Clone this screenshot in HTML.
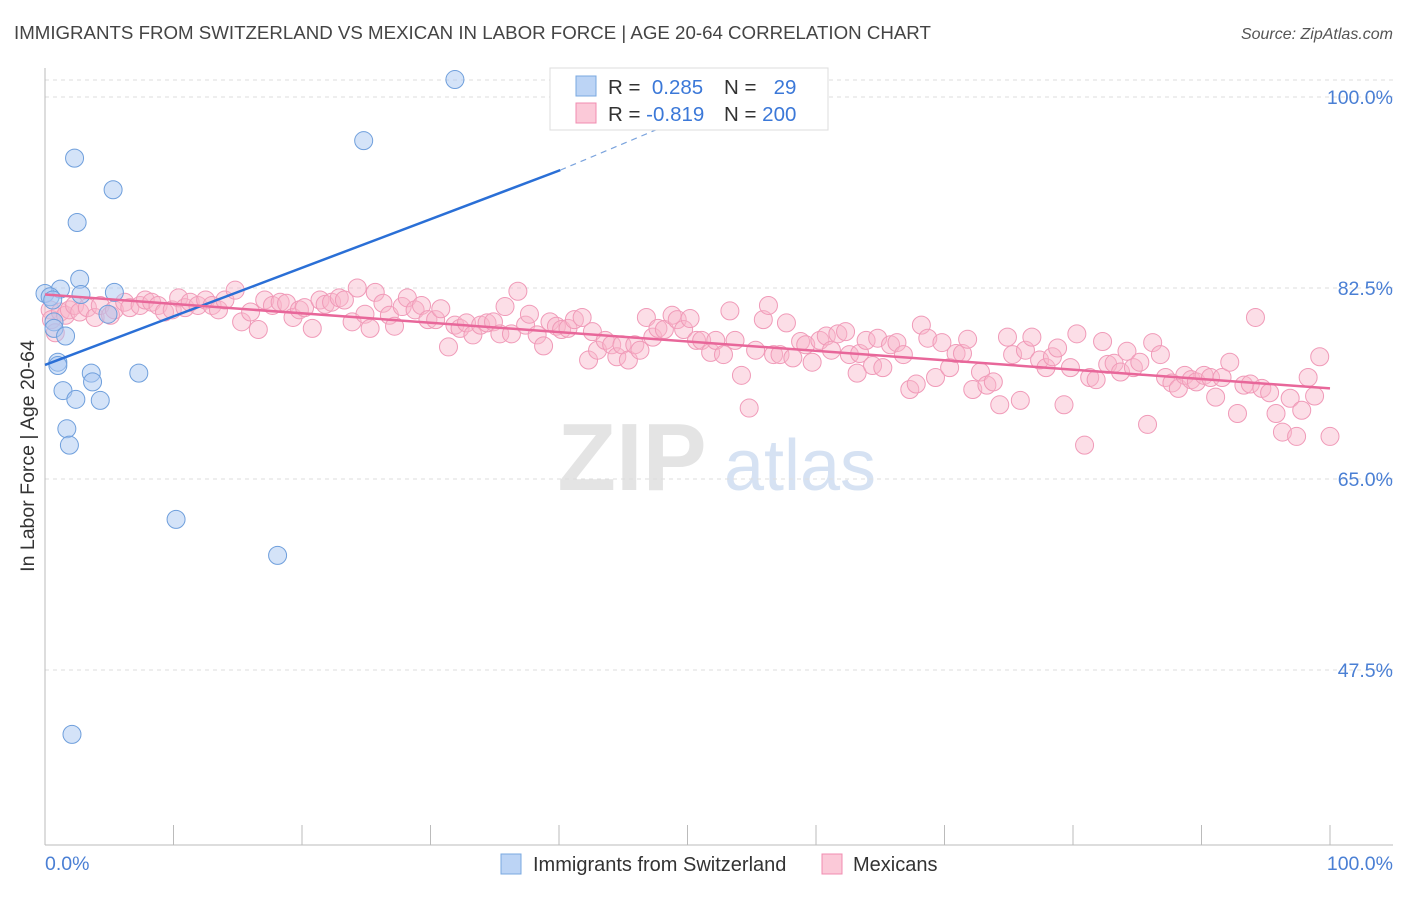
<!DOCTYPE html>
<html><head><meta charset="utf-8">
<style>
body{margin:0;background:#fff;font-family:"Liberation Sans",sans-serif;}
svg text{font-family:"Liberation Sans",sans-serif;}
</style></head>
<body>
<svg id="chart" width="1406" height="892" xmlns="http://www.w3.org/2000/svg">
<text x="14" y="39" font-size="18.7" fill="#444">IMMIGRANTS FROM SWITZERLAND VS MEXICAN IN LABOR FORCE | AGE 20-64 CORRELATION CHART</text>
<text x="1393" y="39" font-size="16" fill="#555" font-style="italic" text-anchor="end">Source: ZipAtlas.com</text>
<g>
<text x="632" y="490" font-size="96" fill="#e4e4e4" font-family="Liberation Serif" text-anchor="middle" font-weight="bold">ZIP</text>
<text x="800" y="490" font-size="72" fill="#d6e2f3" text-anchor="middle">atlas</text>
</g>
<g id="grid"></g>
<g id="axes"></g>
<g id="pink"></g>
<g id="blue"></g>
<g id="trends"></g>
<text transform="translate(34,456) rotate(-90)" font-size="19.5" fill="#333" text-anchor="middle">In Labor Force | Age 20-64</text>
<text x="45" y="870" font-size="19.5" fill="#4a7fd4">0.0%</text>
<text x="1393" y="870" font-size="19.5" fill="#4a7fd4" text-anchor="end">100.0%</text>
<g>
<rect x="550" y="68" width="278" height="62" fill="#fff" stroke="#ddd"/>
<rect x="576" y="76" width="20" height="20" fill="#bcd4f5" stroke="#7aa8e0"/>
<rect x="576" y="103" width="20" height="20" fill="#fbc9d8" stroke="#f08cb0"/>
<text x="608" y="94" font-size="20.5" fill="#333">R = <tspan fill="#3b78d8">&#160;0.285</tspan></text>
<text x="724" y="94" font-size="20.5" fill="#333">N = <tspan fill="#3b78d8">&#160;&#160;29</tspan></text>
<text x="608" y="121" font-size="20.5" fill="#333">R = <tspan fill="#3b78d8">-0.819</tspan></text>
<text x="724" y="121" font-size="20.5" fill="#333">N = <tspan fill="#3b78d8">200</tspan></text>
</g>
<g>
<rect x="501" y="854" width="20" height="20" fill="#bcd4f5" stroke="#7aa8e0"/>
<text x="533" y="871" font-size="20" fill="#333">Immigrants from Switzerland</text>
<rect x="822" y="854" width="20" height="20" fill="#fbc9d8" stroke="#f08cb0"/>
<text x="853" y="871" font-size="20" fill="#333">Mexicans</text>
</g>
</svg>
<script>
const yTicks=[100,82.5,65,47.5];
const yTickLabels=["100.0%","82.5%","65.0%","47.5%"];
const xTicks=[0,10,20,30,40,50,60,70,80,90,100];
const blueX=[31.9,24.8,2.3,5.3,2.5,2.7,1.2,0.0,0.4,0.6,2.8,5.4,4.9,0.7,0.7,1.6,1.0,1.0,7.3,3.6,3.7,1.4,2.4,4.3,1.7,1.9,10.2,18.1,2.1];
const blueY=[101.6,96.0,94.4,91.5,88.5,83.3,82.4,82.0,81.7,81.4,81.9,82.1,80.1,79.4,78.8,78.1,75.7,75.4,74.7,74.7,73.9,73.1,72.3,72.2,69.6,68.1,61.3,58.0,41.6];
const pinkX=[0.4,0.5,0.8,1.2,1.6,1.9,2.3,2.7,3.3,3.9,4.3,5.1,5.4,6.2,6.6,7.4,7.8,8.3,8.8,9.3,9.9,10.4,10.9,11.3,11.9,12.5,13.0,13.5,14.0,14.8,15.3,16.0,16.6,17.1,17.7,18.3,18.8,19.3,19.8,20.2,20.8,21.4,21.8,22.3,22.9,23.3,23.9,24.3,24.9,25.3,25.7,26.3,26.8,27.2,27.8,28.2,28.8,29.3,29.8,30.4,30.8,31.4,31.9,32.3,32.8,33.3,33.9,34.4,34.9,35.4,35.8,36.3,36.8,37.4,37.7,38.3,38.8,39.3,39.8,40.2,40.7,41.2,41.8,42.3,42.6,43.0,43.6,44.1,44.5,44.9,45.4,45.9,46.3,46.8,47.3,47.7,48.2,48.8,49.2,49.7,50.2,50.7,51.1,51.8,52.2,52.8,53.3,53.7,54.2,54.8,55.3,55.9,56.3,56.7,57.2,57.7,58.2,58.8,59.2,59.7,60.3,60.8,61.2,61.7,62.3,62.6,63.2,63.4,63.9,64.4,64.8,65.2,65.8,66.3,66.8,67.3,67.8,68.2,68.7,69.3,69.8,70.4,70.9,71.4,71.8,72.2,72.8,73.3,73.8,74.3,74.9,75.3,75.9,76.3,76.8,77.4,77.9,78.4,78.8,79.3,79.8,80.3,80.9,81.3,81.8,82.3,82.7,83.2,83.7,84.2,84.7,85.2,85.8,86.2,86.8,87.2,87.7,88.2,88.7,89.2,89.6,90.2,90.7,91.1,91.6,92.2,92.8,93.3,93.8,94.2,94.7,95.3,95.8,96.3,96.9,97.4,97.8,98.3,98.8,99.2,100.0];
const pinkY=[80.5,79.6,78.4,80.3,80.0,80.5,80.9,80.3,80.7,79.8,80.9,80.0,80.5,81.2,80.7,80.9,81.4,81.2,80.9,80.3,80.5,81.6,80.7,81.2,80.9,81.4,80.9,80.5,81.4,82.3,79.4,80.3,78.7,81.4,80.9,81.2,81.1,79.8,80.5,80.7,78.8,81.4,81.0,81.2,81.6,81.4,79.4,82.5,80.1,78.8,82.1,81.1,80.0,79.0,80.8,81.6,80.5,80.9,79.6,79.6,80.6,77.1,79.1,78.8,79.3,78.2,79.1,79.3,79.4,78.3,80.8,78.3,82.2,79.1,80.1,78.2,77.2,79.4,79.0,78.7,78.8,79.6,79.8,75.9,78.5,76.8,77.7,77.3,76.2,77.3,75.9,77.3,76.8,79.8,78.0,78.8,78.7,80.0,79.6,78.7,79.7,77.7,77.7,76.6,77.7,76.4,80.4,77.7,74.5,71.5,76.8,79.6,80.9,76.4,76.4,79.3,76.1,77.6,77.3,75.7,77.7,78.1,76.8,78.3,78.5,76.4,74.7,76.5,77.7,75.4,77.9,75.2,77.3,77.5,76.4,73.2,73.7,79.1,77.9,74.3,77.5,75.2,76.5,76.5,77.8,73.2,74.8,73.6,73.9,71.8,78.0,76.4,72.2,76.8,78.0,75.9,75.2,76.2,77.0,71.8,75.2,78.3,68.1,74.3,74.1,77.6,75.5,75.6,74.8,76.7,75.2,75.7,70.0,77.5,76.4,74.3,73.8,73.3,74.5,74.1,73.9,74.5,74.3,72.5,74.3,75.7,71.0,73.6,73.7,79.8,73.3,72.9,71.0,69.3,72.4,68.9,71.3,74.3,72.6,76.2,68.9];
const blueTrendX=[0,40.1];
const blueTrendY=[75.45,93.3];
const blueDashX=[40.1,51];
const blueDashY=[93.3,98.7];
const pinkTrendX=[0,100];
const pinkTrendY=[81.9,73.3];

const NS="http://www.w3.org/2000/svg";
const sx=v=>45+v*12.85;
const sy=v=>97+(100-v)*191/17.5;
function mk(tag,attrs,parent){const e=document.createElementNS(NS,tag);for(const k in attrs)e.setAttribute(k,attrs[k]);parent.appendChild(e);return e;}
const gridG=document.getElementById('grid'),axesG=document.getElementById('axes');
const topLine=mk('line',{x1:45,x2:1393,y1:80,y2:80,stroke:'#ddd','stroke-dasharray':'4,4'},gridG);


yTicks.forEach((t,i)=>{
 const l=mk('line',{x1:45,x2:1393,y1:sy(t),y2:sy(t),stroke:'#ddd','stroke-dasharray':'4,4'},gridG);
 
 
 const tx=mk('text',{x:1393,y:sy(t)+7,'font-size':19.5,fill:'#4a7fd4','text-anchor':'end'},gridG);
 tx.textContent=yTickLabels[i];
 
 
});
const ya=mk('line',{x1:45,x2:45,y1:68,y2:845,stroke:'#bbb'},axesG);


const xa=mk('line',{x1:45,x2:1393,y1:845,y2:845,stroke:'#bbb'},axesG);


xTicks.forEach(t=>{
 const l=mk('line',{x1:sx(t),x2:sx(t),y1:825,y2:845,stroke:'#bbb'},axesG);
 
 
});
const pg=document.getElementById('pink');
pinkX.forEach((x,i)=>{
 const c=mk('circle',{cx:sx(x),cy:sy(pinkY[i]),r:9,fill:'rgba(248,182,202,0.45)',stroke:'#f09ab8','stroke-width':1},pg);
 
 
});
const bg=document.getElementById('blue');
blueX.forEach((x,i)=>{
 const c=mk('circle',{cx:sx(x),cy:sy(blueY[i]),r:9,fill:'rgba(170,200,242,0.5)',stroke:'#6f9fdc','stroke-width':1},bg);
 
 
});
const tg=document.getElementById('trends');
const bl=mk('line',{x1:sx(blueTrendX[0]),y1:sy(blueTrendY[0]),x2:sx(blueTrendX[1]),y2:sy(blueTrendY[1]),stroke:'#2a6fd6','stroke-width':2.5},tg);


const bd=mk('line',{x1:sx(blueDashX[0]),y1:sy(blueDashY[0]),x2:sx(blueDashX[1]),y2:sy(blueDashY[1]),stroke:'#7aa3dd','stroke-width':1.2,'stroke-dasharray':'6,5'},tg);


const pl=mk('line',{x1:sx(pinkTrendX[0]),y1:sy(pinkTrendY[0]),x2:sx(pinkTrendX[1]),y2:sy(pinkTrendY[1]),stroke:'#e8679a','stroke-width':2.5},tg);


</script>
</body></html>
